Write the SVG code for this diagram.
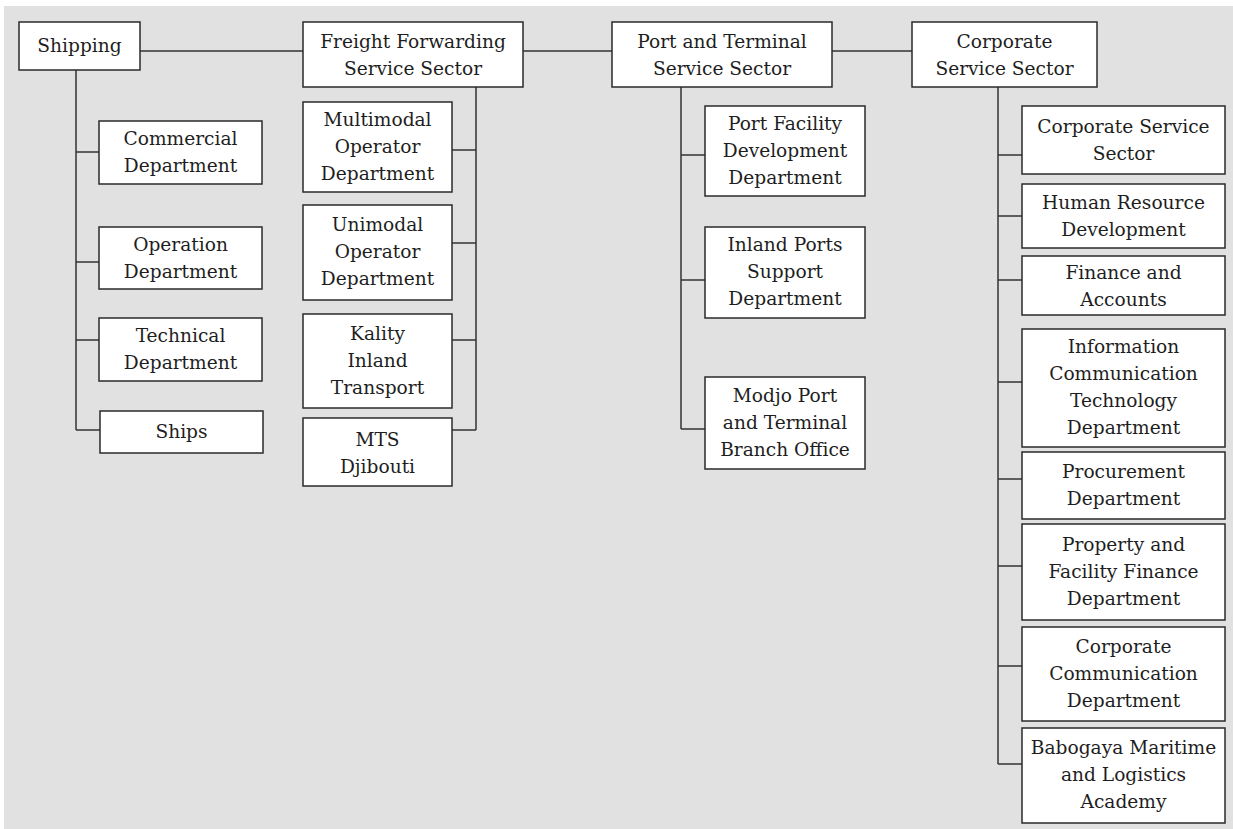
<svg xmlns="http://www.w3.org/2000/svg" width="1233" height="829" viewBox="0 0 1233 829">
<style>
.box{fill:#fff;stroke:#2a2a2a;stroke-width:1.5}
.lbl{font-family:"DejaVu Serif","Liberation Serif",serif;font-size:18.6px;fill:#1e1e1e;text-anchor:middle}
.con{fill:none;stroke:#333;stroke-width:1.5}
</style>
<rect x="0" y="0" width="1233" height="829" fill="#fff"/>
<rect x="4" y="6" width="1229" height="823" fill="#e1e1e1"/>
<g id="connectors" class="con">
<path d="M140 51H303M523 51H612M832 51H912"/>
<path d="M76 70V430M76 152H99M76 262H99M76 340H99M76 430H100"/>
<path d="M476 87V430M452 150H476M452 243H476M452 340H476M452 430H476"/>
<path d="M681 87V429M681 155H705M681 280H705M681 429H705"/>
<path d="M998 87V764M998 155H1022M998 216H1022M998 280H1022M998 382H1022M998 479H1022M998 566H1022M998 666H1022M998 764H1022"/>
</g>
<g id="shipping"><rect class="box" x="19" y="22" width="121" height="48"/><text class="lbl" x="79.5" y="52">Shipping</text></g>
<g id="freight"><rect class="box" x="303" y="22" width="220" height="65"/><text class="lbl" x="413" y="48">Freight Forwarding</text><text class="lbl" x="413" y="75">Service Sector</text></g>
<g id="port"><rect class="box" x="612" y="22" width="220" height="65"/><text class="lbl" x="722" y="48">Port and Terminal</text><text class="lbl" x="722" y="75">Service Sector</text></g>
<g id="corporate"><rect class="box" x="912" y="22" width="185" height="65"/><text class="lbl" x="1004.5" y="48">Corporate</text><text class="lbl" x="1004.5" y="75">Service Sector</text></g>

<g id="commercial"><rect class="box" x="99" y="121" width="163" height="63"/><text class="lbl" x="180.5" y="145">Commercial</text><text class="lbl" x="180.5" y="172">Department</text></g>
<g id="operation"><rect class="box" x="99" y="227" width="163" height="62"/><text class="lbl" x="180.5" y="251">Operation</text><text class="lbl" x="180.5" y="278">Department</text></g>
<g id="technical"><rect class="box" x="99" y="318" width="163" height="63"/><text class="lbl" x="180.5" y="342">Technical</text><text class="lbl" x="180.5" y="369">Department</text></g>
<g id="ships"><rect class="box" x="100" y="411" width="163" height="42"/><text class="lbl" x="181.5" y="438">Ships</text></g>

<g id="multimodal"><rect class="box" x="303" y="102" width="149" height="90"/><text class="lbl" x="377.5" y="126">Multimodal</text><text class="lbl" x="377.5" y="153">Operator</text><text class="lbl" x="377.5" y="180">Department</text></g>
<g id="unimodal"><rect class="box" x="303" y="205" width="149" height="95"/><text class="lbl" x="377.5" y="231">Unimodal</text><text class="lbl" x="377.5" y="258">Operator</text><text class="lbl" x="377.5" y="285">Department</text></g>
<g id="kality"><rect class="box" x="303" y="314" width="149" height="94"/><text class="lbl" x="377.5" y="340">Kality</text><text class="lbl" x="377.5" y="367">Inland</text><text class="lbl" x="377.5" y="394">Transport</text></g>
<g id="mts"><rect class="box" x="303" y="418" width="149" height="68"/><text class="lbl" x="377.5" y="446">MTS</text><text class="lbl" x="377.5" y="473">Djibouti</text></g>

<g id="portfacility"><rect class="box" x="705" y="106" width="160" height="90"/><text class="lbl" x="785" y="130">Port Facility</text><text class="lbl" x="785" y="157">Development</text><text class="lbl" x="785" y="184">Department</text></g>
<g id="inlandports"><rect class="box" x="705" y="227" width="160" height="91"/><text class="lbl" x="785" y="251">Inland Ports</text><text class="lbl" x="785" y="278">Support</text><text class="lbl" x="785" y="305">Department</text></g>
<g id="modjo"><rect class="box" x="705" y="377" width="160" height="92"/><text class="lbl" x="785" y="402">Modjo Port</text><text class="lbl" x="785" y="429">and Terminal</text><text class="lbl" x="785" y="456">Branch Office</text></g>

<g id="css"><rect class="box" x="1022" y="106" width="203" height="68"/><text class="lbl" x="1123.5" y="133">Corporate Service</text><text class="lbl" x="1123.5" y="160">Sector</text></g>
<g id="hr"><rect class="box" x="1022" y="184" width="203" height="64"/><text class="lbl" x="1123.5" y="209">Human Resource</text><text class="lbl" x="1123.5" y="236">Development</text></g>
<g id="finance"><rect class="box" x="1022" y="256" width="203" height="59"/><text class="lbl" x="1123.5" y="279">Finance and</text><text class="lbl" x="1123.5" y="306">Accounts</text></g>
<g id="ict"><rect class="box" x="1022" y="329" width="203" height="118"/><text class="lbl" x="1123.5" y="353">Information</text><text class="lbl" x="1123.5" y="380">Communication</text><text class="lbl" x="1123.5" y="407">Technology</text><text class="lbl" x="1123.5" y="434">Department</text></g>
<g id="procurement"><rect class="box" x="1022" y="452" width="203" height="67"/><text class="lbl" x="1123.5" y="478">Procurement</text><text class="lbl" x="1123.5" y="505">Department</text></g>
<g id="property"><rect class="box" x="1022" y="524" width="203" height="96"/><text class="lbl" x="1123.5" y="551">Property and</text><text class="lbl" x="1123.5" y="578">Facility Finance</text><text class="lbl" x="1123.5" y="605">Department</text></g>
<g id="corpcomm"><rect class="box" x="1022" y="627" width="203" height="94"/><text class="lbl" x="1123.5" y="653">Corporate</text><text class="lbl" x="1123.5" y="680">Communication</text><text class="lbl" x="1123.5" y="707">Department</text></g>
<g id="babogaya"><rect class="box" x="1022" y="728" width="203" height="95"/><text class="lbl" x="1123.5" y="754">Babogaya Maritime</text><text class="lbl" x="1123.5" y="781">and Logistics</text><text class="lbl" x="1123.5" y="808">Academy</text></g>
</svg>
